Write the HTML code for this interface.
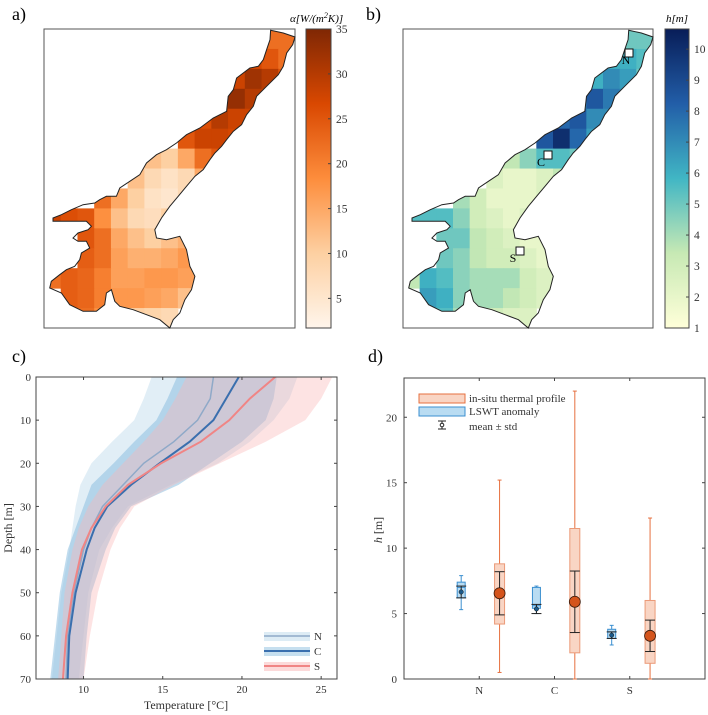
<!DOCTYPE html>
<html><head><meta charset="utf-8"><style>
html,body{margin:0;padding:0;background:#fff}
svg{display:block;font-family:"Liberation Serif",serif}
</style></head><body>
<svg id="fig" width="708" height="715" viewBox="0 0 708 715">
<text x="12" y="20" font-size="18">a)</text>
<text x="366" y="20" font-size="18">b)</text>
<text x="12" y="362" font-size="18">c)</text>
<text x="368" y="362" font-size="18">d)</text>
<g id="mapA"></g>
<g id="mapB"></g>
<g id="chartC"></g>
<g id="chartD"></g>
</svg>
<script>
const lakeOutline = [[812,92],[850,100],[885,112],[878,135],[860,160],[850,200],[835,225],[800,260],[770,290],[760,320],[740,345],[725,375],[700,395],[680,420],[665,440],[645,460],[630,480],[610,510],[585,530],[560,560],[535,590],[510,620],[485,655],[465,690],[470,715],[500,720],[540,710],[560,750],[570,800],[585,830],[575,870],[555,900],[540,940],[520,960],[510,985],[480,960],[440,945],[400,930],[360,920],[345,905],[335,870],[320,880],[315,915],[290,935],[250,935],[210,915],[185,880],[150,865],[155,845],[180,825],[200,810],[225,800],[240,780],[245,760],[270,745],[260,725],[235,725],[220,715],[235,700],[265,690],[275,680],[260,665],[200,665],[160,665],[160,655],[185,645],[215,630],[250,615],[285,610],[300,600],[320,590],[350,590],[360,565],[390,545],[420,525],[440,490],[470,465],[500,450],[530,430],[560,405],[600,385],[640,355],[680,335],[685,290],[700,270],[710,235],[750,205],[775,200],[790,180],[800,150],[810,120]];
const N_ = null;
const alphaRow0 =[N_,N_,N_,N_,N_,N_,N_,N_,N_,N_,N_,N_,N_,22,22];
const alphaRow1 =[N_,N_,N_,N_,N_,N_,N_,N_,N_,N_,N_,N_,27,25,22];
const alphaRow2 =[N_,N_,N_,N_,N_,N_,N_,N_,N_,N_,N_,28,32,30,25];
const alphaRow3 =[N_,N_,N_,N_,N_,N_,N_,N_,N_,N_,30,33,30,28,N_];
const alphaRow4 =[N_,N_,N_,N_,N_,N_,N_,N_,N_,26,30,28,28,N_,N_];
const alphaRow5 =[N_,N_,N_,N_,N_,N_,N_,N_,25,28,28,27,N_,N_,N_];
const alphaRow6 =[N_,N_,N_,N_,N_,N_,12,10,15,22,25,N_,N_,N_,N_];
const alphaRow7 =[N_,N_,N_,N_,N_,12,8,6,8,15,N_,N_,N_,N_,N_];
const alphaRow8 =[N_,N_,N_,22,15,10,6,5,8,N_,N_,N_,N_,N_,N_];
const alphaRow9 =[28,26,25,18,12,8,7,10,N_,N_,N_,N_,N_,N_,N_];
const alphaRow10=[N_,N_,25,22,15,12,10,12,14,N_,N_,N_,N_,N_,N_];
const alphaRow11=[N_,N_,24,22,16,14,14,15,17,N_,N_,N_,N_,N_,N_];
const alphaRow12=[22,24,23,20,16,16,17,17,16,N_,N_,N_,N_,N_,N_];
const alphaRow13=[N_,24,23,20,17,17,16,15,12,N_,N_,N_,N_,N_,N_];
const alphaRow14=[N_,N_,22,18,12,10,9,8,N_,N_,N_,N_,N_,N_,N_];
const hRow0 =[N_,N_,N_,N_,N_,N_,N_,N_,N_,N_,N_,N_,N_,5,5];
const hRow1 =[N_,N_,N_,N_,N_,N_,N_,N_,N_,N_,N_,N_,6,6,5.5];
const hRow2 =[N_,N_,N_,N_,N_,N_,N_,N_,N_,N_,N_,6,7,6.5,5];
const hRow3 =[N_,N_,N_,N_,N_,N_,N_,N_,N_,N_,7,8.5,7.5,7,N_];
const hRow4 =[N_,N_,N_,N_,N_,N_,N_,N_,N_,8,8.5,7,7,N_,N_];
const hRow5 =[N_,N_,N_,N_,N_,N_,N_,N_,8.5,10,8,6.5,N_,N_,N_];
const hRow6 =[N_,N_,N_,N_,N_,N_,3.5,4.5,5.5,5.5,5,N_,N_,N_,N_];
const hRow7 =[N_,N_,N_,N_,N_,2.5,2,2,2.5,3.5,N_,N_,N_,N_,N_];
const hRow8 =[N_,N_,N_,4,3,2,2,2,2.5,N_,N_,N_,N_,N_,N_];
const hRow9 =[5.5,5.5,5.5,4.5,3,2.5,2,2.5,N_,N_,N_,N_,N_,N_,N_];
const hRow10=[N_,N_,5,5,3.5,3,2.5,2,2,N_,N_,N_,N_,N_,N_];
const hRow11=[N_,N_,5,4.5,3.5,3,3,2.5,2,N_,N_,N_,N_,N_,N_];
const hRow12=[3.5,6,5.5,4.5,4,4,4,3,2.5,N_,N_,N_,N_,N_,N_];
const hRow13=[N_,6.5,6,4.5,4,4,3.5,3,2.5,N_,N_,N_,N_,N_,N_];
const hRow14=[N_,N_,5.5,4,2.5,3,2.5,2.5,N_,N_,N_,N_,N_,N_,N_];
const alphaTicks=[5,10,15,20,25,30,35];
const hTicks=[1,2,3,4,5,6,7,8,9,10];

const depths=[0,5,10,15,20,25,30,35,40,50,60,70];
const tN=[18.2,18.0,17.2,15.7,13.8,12.5,11.2,10.5,10.0,9.4,9.0,8.9];
const tC=[19.8,19.0,18.2,16.7,14.8,13.0,11.5,10.7,10.2,9.5,9.1,9.0];
const tS=[22.1,20.5,19.2,17.4,14.9,12.8,11.4,10.5,9.9,9.3,8.9,8.7];
const nLo=[14.3,13.8,13.2,11.8,10.5,9.8,9.5,9.3,9.1,8.6,8.3,8.0];
const nHi=[23.5,23.0,22.0,20.5,18.5,15.5,12.8,11.8,11.0,10.3,10.0,9.7];
const cLo=[15.9,15.3,14.6,13.2,11.9,10.5,10.0,9.5,9.0,8.5,8.2,7.9];
const cHi=[22.2,22.0,21.5,20.0,18.0,16.0,13.0,12.0,11.4,10.5,10.2,10.0];
const sLo=[16.5,15.8,15.0,13.8,12.5,11.2,10.3,9.7,9.3,8.8,8.6,8.4];
const sHi=[25.7,25.0,24.0,21.5,18.6,15.7,13.2,12.3,11.7,10.9,10.4,10.0];
const cXTicks=[10,15,20,25];
const cYTicks=[0,10,20,30,40,50,60,70];

const cats=["N","C","S"];
const lsMin=[5.3,5.0,2.6], lsQ1=[6.2,5.4,3.1], lsMed=[7.0,5.6,3.6], lsQ3=[7.4,7.0,3.8], lsMax=[7.9,7.1,4.1];
const lsMean=[6.65,5.35,3.35], lsStd=[0.45,0.35,0.25];
const isMin=[0.5,0,0], isQ1=[4.2,2.0,1.2], isQ3=[8.8,11.5,6.0], isMax=[15.2,22,12.3];
const isMean=[6.55,5.9,3.3], isStd=[1.65,2.35,1.2];
const dYTicks=[0,5,10,15,20];

const NS="http://www.w3.org/2000/svg";
function mk(tag,attrs,parent){const e=document.createElementNS(NS,tag);for(const k in attrs)e.setAttribute(k,attrs[k]);if(parent)parent.appendChild(e);return e;}
function txt(parent,x,y,s,size,anchor,extra){const t=mk('text',Object.assign({x:x,y:y,'font-size':size,'text-anchor':anchor||'start'},extra||{}),parent);t.textContent=s;return t;}
function hex(c){return [parseInt(c.slice(1,3),16),parseInt(c.slice(3,5),16),parseInt(c.slice(5,7),16)];}
function cmap(stops,t){t=Math.max(0,Math.min(1,t));const n=stops.length-1;const i=Math.min(n-1,Math.floor(t*n));const f=t*n-i;const a=hex(stops[i]),b=hex(stops[i+1]);return 'rgb('+a.map((v,k)=>Math.round(v+(b[k]-v)*f)).join(',')+')';}
const oranges=['#fff5eb','#fdd0a2','#fd8d3c','#d94801','#7f2704'];
const ylgnbu=['#ffffd9','#c7e9b4','#41b6c4','#225ea8','#081d58'];

function drawMap(g,id,box,grid,stops,vmin,vmax,cb,ticks){
  const [x0,y0,w,h]=box;
  const px=zx=>x0+(zx-133)/752*w, py=zy=>y0+(zy-88)/897*h;
  const pts=lakeOutline.map(p=>px(p[0]).toFixed(1)+','+py(p[1]).toFixed(1)).join(' ');
  const defs=mk('defs',{},g);
  const cp=mk('clipPath',{id:id},defs);
  mk('polygon',{points:pts},cp);
  const frame=mk('rect',{x:x0,y:y0,width:w,height:h,fill:'#fff',stroke:'#555','stroke-width':1},g);
  
  
  const cells=mk('g',{'clip-path':'url(#'+id+')'},g);
  const cw=w/15,ch=h/15;
  grid.forEach((row,r)=>row.forEach((v,c)=>{
    if(v===null)return;
    const cell=mk('rect',{x:x0+c*cw,y:y0+r*ch,width:cw+0.5,height:ch+0.5,fill:cmap(stops,(v-vmin)/(vmax-vmin))},cells);
    
    
  }));
  const outline=mk('polygon',{points:pts,fill:'none',stroke:'#222','stroke-width':1},g);
  
  
  const [cx,cy,cwid,chgt]=cb;
  const gd=mk('linearGradient',{id:id+'g',x1:0,y1:1,x2:0,y2:0},defs);
  stops.forEach((s,i)=>mk('stop',{offset:i/(stops.length-1),'stop-color':s},gd));
  const bar=mk('rect',{x:cx,y:cy,width:cwid,height:chgt,fill:'url(#'+id+'g)',stroke:'#444','stroke-width':1},g);
  
  
  ticks.forEach(t=>{const y=cy+chgt-(t-vmin)/(vmax-vmin)*chgt;
    mk('line',{x1:cx+cwid-3,x2:cx+cwid,y1:y,y2:y,stroke:'#444'},g);
    const l=txt(g,cx+cwid+5,y+4,String(t),11.5,'start',{fill:'#333'});
    
    
  });
}
const gA=document.getElementById('mapA');
drawMap(gA,'clipA',[44,29,251,299],[alphaRow0,alphaRow1,alphaRow2,alphaRow3,alphaRow4,alphaRow5,alphaRow6,alphaRow7,alphaRow8,alphaRow9,alphaRow10,alphaRow11,alphaRow12,alphaRow13,alphaRow14],oranges,1.7,35,[306,29,25,299],alphaTicks);
const ta=txt(gA,290,22,'',11,'start',{'font-style':'italic'});
ta.innerHTML='α[W/(m<tspan dy="-4" font-size="8">2</tspan><tspan dy="4">K)]</tspan>';



const gB=document.getElementById('mapB');
drawMap(gB,'clipB',[403,29,250,299],[hRow0,hRow1,hRow2,hRow3,hRow4,hRow5,hRow6,hRow7,hRow8,hRow9,hRow10,hRow11,hRow12,hRow13,hRow14],ylgnbu,1,10.65,[665,29,24,299],hTicks);
const tb=txt(gB,666,22,'h[m]',11,'start',{'font-style':'italic'});


[['N',629,53,626,64],['C',548,155,541,166],['S',520,251,513,262]].forEach(s=>{
  const m=mk('rect',{x:s[1]-4,y:s[2]-4,width:8,height:8,fill:'#fff',stroke:'#111','stroke-width':1},gB);
  
  
  const l=txt(gB,s[3],s[4],s[0],12,'middle');
  
  
});

(function(){
  const g=document.getElementById('chartC');
  const L=36,R=337,T=377,B=679;
  const xs=v=>L+(v-7)/(26-7)*(R-L), ys=d=>T+d/70*(B-T);
  const defs=mk('defs',{},g);const cp=mk('clipPath',{id:'clipC'},defs);mk('rect',{x:L,y:T,width:R-L,height:B-T},cp);
  const bg=mk('rect',{x:L,y:T,width:R-L,height:B-T,fill:'#fff'},g);
  
  
  const pg=mk('g',{'clip-path':'url(#clipC)'},g);
  function band(lo,hi,col,op,name){
    const p=depths.map((d,i)=>xs(lo[i])+','+ys(d)).concat(depths.map((d,i)=>xs(hi[i])+','+ys(d)).reverse());
    const e=mk('polygon',{points:p.join(' '),fill:col,'fill-opacity':op},pg);
    
    
  }
  band(nLo,nHi,'#bcd9ec',0.45,'band-N');
  band(cLo,cHi,'#8ebfe0',0.55,'band-C');
  band(sLo,sHi,'#f9b5b5',0.38,'band-S');
  function line(t,col,wd,name){
    const e=mk('polyline',{points:depths.map((d,i)=>xs(t[i])+','+ys(d)).join(' '),fill:'none',stroke:col,'stroke-width':wd},pg);
    
    
  }
  line(tN,'#8fa9c8',1.5,'line-N');
  line(tC,'#3a6fae',2,'line-C');
  line(tS,'#f08585',2,'line-S');
  const ax=mk('rect',{x:L,y:T,width:R-L,height:B-T,fill:'none',stroke:'#444','stroke-width':1},g);
  
  
  cXTicks.forEach(v=>{const x=xs(v);mk('line',{x1:x,x2:x,y1:B,y2:B-3,stroke:'#444'},g);mk('line',{x1:x,x2:x,y1:T,y2:T+3,stroke:'#444'},g);
    const l=txt(g,x,693,String(v),11,'middle',{fill:'#333'});});
  cYTicks.forEach(v=>{const y=ys(v);mk('line',{x1:L,x2:L+3,y1:y,y2:y,stroke:'#444'},g);mk('line',{x1:R,x2:R-3,y1:y,y2:y,stroke:'#444'},g);
    const l=txt(g,31,y+4,String(v),11,'end',{fill:'#333'});});
  const xt=txt(g,186,709,'Temperature [°C]',12,'middle',{fill:'#333'});
  const yt=txt(g,0,0,'Depth [m]',12,'middle',{fill:'#333',transform:'translate(12,528) rotate(-90)'});
  [['N','#bcd9ec','#8fa9c8',1.5,636],['C','#8ebfe0','#3a6fae',2,651],['S','#f9b5b5','#f08585',2,666]].forEach(e=>{
    const lg=mk('g',{},g);
    mk('rect',{x:264,y:e[4]-4,width:46,height:9,fill:e[1],'fill-opacity':0.5},lg);
    mk('line',{x1:264,x2:310,y1:e[4],y2:e[4],stroke:e[2],'stroke-width':e[3]},lg);
    txt(lg,314,e[4]+4,e[0],11,'start',{fill:'#333'});
  });
})();

(function(){
  const g=document.getElementById('chartD');
  const L=404,R=705,T=378,B=679;
  const xs=v=>L+v/4*(R-L), ys=v=>B-v/23*(B-T);
  const ax=mk('rect',{x:L,y:T,width:R-L,height:B-T,fill:'#fff',stroke:'#444','stroke-width':1},g);
  
  
  dYTicks.forEach(v=>{const y=ys(v);mk('line',{x1:L,x2:L+3,y1:y,y2:y,stroke:'#444'},g);mk('line',{x1:R,x2:R-3,y1:y,y2:y,stroke:'#444'},g);
    const l=txt(g,397,y+4,String(v),11,'end',{fill:'#333'});});
  cats.forEach((c,i)=>{const x=xs(i+1);mk('line',{x1:x,x2:x,y1:B,y2:B-3,stroke:'#444'},g);mk('line',{x1:x,x2:x,y1:T,y2:T+3,stroke:'#444'},g);
    const l=txt(g,x,694,c,11,'middle',{fill:'#333'});});
  const yt=txt(g,0,0,'',12,'middle',{fill:'#333',transform:'translate(382,530) rotate(-90)'});
  yt.innerHTML='<tspan font-style="italic">h</tspan> [m]';
  
  function errbar(gg,x,m,s){
    mk('line',{x1:x,x2:x,y1:ys(m-s),y2:ys(m+s),stroke:'#222','stroke-width':1},gg);
    mk('line',{x1:x-5,x2:x+5,y1:ys(m-s),y2:ys(m-s),stroke:'#222'},gg);
    mk('line',{x1:x-5,x2:x+5,y1:ys(m+s),y2:ys(m+s),stroke:'#222'},gg);
  }
  cats.forEach((c,i)=>{
    const gl=mk('g',{},g);
    const xl=xs(i+1-0.24);
    mk('line',{x1:xl,x2:xl,y1:ys(lsMin[i]),y2:ys(lsMax[i]),stroke:'#3b8fd0'},gl);
    mk('line',{x1:xl-2,x2:xl+2,y1:ys(lsMin[i]),y2:ys(lsMin[i]),stroke:'#3b8fd0'},gl);
    mk('line',{x1:xl-2,x2:xl+2,y1:ys(lsMax[i]),y2:ys(lsMax[i]),stroke:'#3b8fd0'},gl);
    mk('rect',{x:xl-4,y:ys(lsQ3[i]),width:8,height:ys(lsQ1[i])-ys(lsQ3[i]),fill:'#b9dcf2',stroke:'#3b8fd0'},gl);
    mk('line',{x1:xl-4,x2:xl+4,y1:ys(lsMed[i]),y2:ys(lsMed[i]),stroke:'#3b8fd0'},gl);
    errbar(gl,xl,lsMean[i],lsStd[i]);
    mk('circle',{cx:xl,cy:ys(lsMean[i]),r:2.2,fill:'#1c5a8a',stroke:'#111','stroke-width':0.5},gl);
    const gi=mk('g',{},g);
    const xi=xs(i+1+0.27);
    mk('line',{x1:xi,x2:xi,y1:ys(isMin[i]),y2:ys(isMax[i]),stroke:'#e6703f'},gi);
    mk('line',{x1:xi-2,x2:xi+2,y1:ys(isMin[i]),y2:ys(isMin[i]),stroke:'#e6703f'},gi);
    mk('line',{x1:xi-2,x2:xi+2,y1:ys(isMax[i]),y2:ys(isMax[i]),stroke:'#e6703f'},gi);
    mk('rect',{x:xi-5,y:ys(isQ3[i]),width:10,height:ys(isQ1[i])-ys(isQ3[i]),fill:'#f9d5c4',stroke:'#eb9a78'},gi);
    errbar(gi,xi,isMean[i],isStd[i]);
    mk('circle',{cx:xi,cy:ys(isMean[i]),r:5.5,fill:'#d4541c',stroke:'#3a1a0a','stroke-width':0.8},gi);
  });
  const l1=mk('g',{},g);
  mk('rect',{x:419,y:394,width:46,height:9,fill:'#f9d5c4',stroke:'#e6703f'},l1);
  txt(l1,469,402,'in-situ thermal profile',11,'start',{fill:'#333'});
  const l2=mk('g',{},g);
  mk('rect',{x:419,y:407,width:46,height:9,fill:'#b9dcf2',stroke:'#3b8fd0'},l2);
  txt(l2,469,415,'LSWT anomaly',11,'start',{fill:'#333'});
  const l3=mk('g',{},g);
  mk('line',{x1:442,x2:442,y1:421,y2:429,stroke:'#222'},l3);
  mk('line',{x1:438,x2:446,y1:421,y2:421,stroke:'#222'},l3);
  mk('line',{x1:438,x2:446,y1:429,y2:429,stroke:'#222'},l3);
  mk('circle',{cx:442,cy:425,r:1.8,fill:'#fff',stroke:'#222'},l3);
  txt(l3,469,430,'mean ± std',11,'start',{fill:'#333'});
})();
</script>
</body></html>
